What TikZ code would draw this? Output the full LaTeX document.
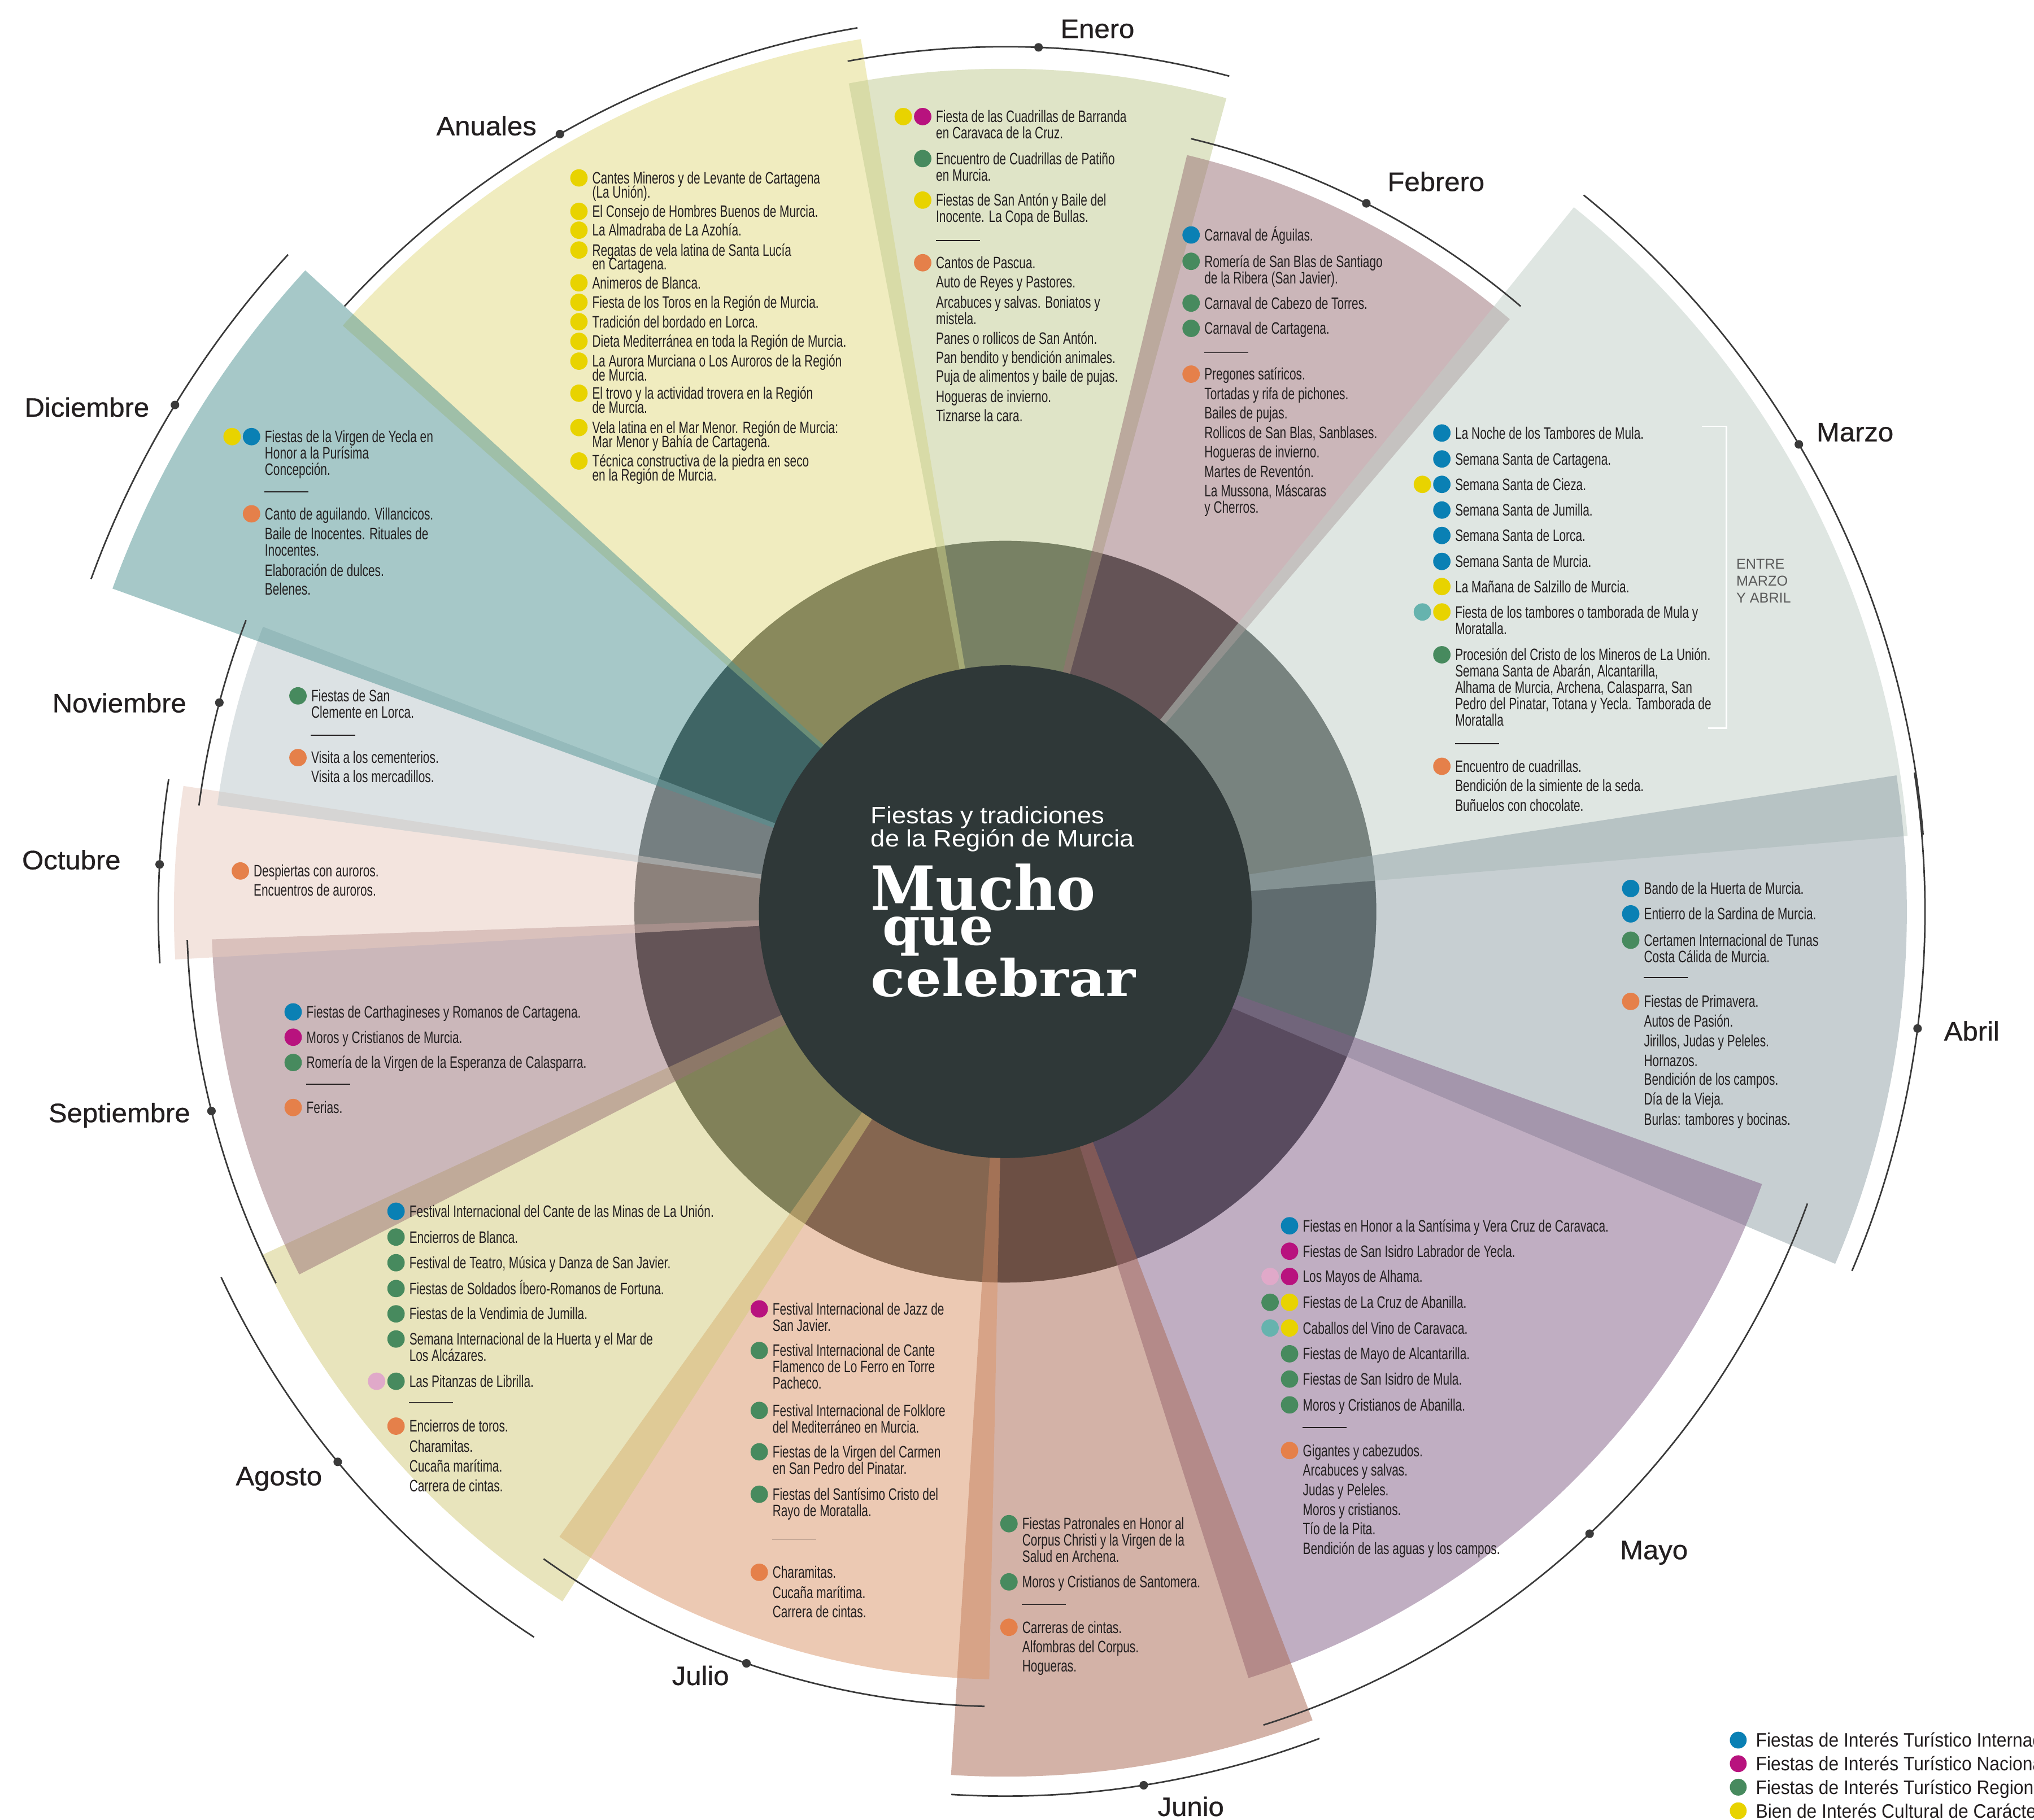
\documentclass[tikz,border=0pt]{standalone}
\usepackage{fontspec}
\usepackage{graphicx}
\setmainfont{Liberation Sans}
\newfontfamily\bodyfnt[FakeStretch=0.71]{Liberation Sans}
\newfontfamily\monfnt[FakeStretch=1.04,FakeBold=0.7]{Liberation Sans}
\newfontfamily\subfnt[FakeStretch=1.08]{Liberation Sans}
\newfontfamily\legfnt[FakeStretch=0.92]{Liberation Sans}
\newfontfamily\headfnt{DejaVu Serif}
\usetikzlibrary{positioning}

% colours
\definecolor{ink}{RGB}{35,31,32}
\definecolor{core}{RGB}{47,56,56}
\definecolor{rimc}{RGB}{58,58,58}
\definecolor{greytxt}{RGB}{90,90,90}
\definecolor{cEne}{RGB}{193,203,145}
\definecolor{cAnu}{RGB}{227,219,129}
\definecolor{cFeb}{RGB}{153,111,117}
\definecolor{cMar}{RGB}{193,207,199}
\definecolor{cAbr}{RGB}{145,161,167}
\definecolor{cMay}{RGB}{131,95,135}
\definecolor{cJun}{RGB}{169,103,81}
\definecolor{cJul}{RGB}{219,149,105}
\definecolor{cAgo}{RGB}{211,203,123}
\definecolor{cSep}{RGB}{153,113,119}
\definecolor{cOct}{RGB}{233,203,191}
\definecolor{cNov}{RGB}{187,199,203}
\definecolor{cDic}{RGB}{79,147,147}
\definecolor{dBlue}{RGB}{10,128,180}
\definecolor{dMag}{RGB}{184,18,126}
\definecolor{dGreen}{RGB}{71,138,94}
\definecolor{dYel}{RGB}{232,211,0}
\definecolor{dOra}{RGB}{229,128,74}
\definecolor{dTeal}{RGB}{102,179,174}
\definecolor{dPink}{RGB}{224,169,201}

\tikzset{
  txt/.style={font=\bodyfnt\fontsize{9.1pt}{8.96pt}\selectfont, text=ink, inner sep=0pt, anchor=base west},
  mon/.style={font=\monfnt\fontsize{14.6pt}{16pt}\selectfont, text=ink, inner sep=0pt, anchor=base},
  subt/.style={font=\subfnt\fontsize{13pt}{14pt}\selectfont, text=white, inner sep=0pt, anchor=base west},
  ttl/.style={font=\headfnt\bfseries, text=white, inner sep=0pt, anchor=base west},
  leg/.style={font=\legfnt\fontsize{10.7pt}{12pt}\selectfont, text=ink, inner sep=0pt, anchor=base west},
  entre/.style={font=\fontsize{7.8pt}{9.25pt}\selectfont, text=greytxt, inner sep=0pt, anchor=base west},
  rim/.style={draw=rimc, line width=0.85pt},
  divline/.style={draw=ink, line width=0.55pt},
  mwedge/.style={fill opacity=0.5},
}

% lines of one entry, first baseline on top
\newcommand\ml[1]{\vtop{\lineskiplimit=-100pt\halign{##\hfil\cr#1\crcr}}}
\newcommand\itm[4]{\node[txt] (#1) at (#2,{-(#3)-4.5}) {\ml{#4}};}
\newcommand\ditm[5]{\fill[#4] ({#2-10},{-(#3)}) circle[radius=6.7]; \itm{#1}{#2}{#3}{#5}}
\newcommand\dditm[6]{\fill[#5] ({#2-25},{-(#3)}) circle[radius=6.7]; \ditm{#1}{#2}{#3}{#4}{#6}}
\newcommand\sepline[2]{\draw[divline] (#1,{-(#2)}) -- ++(34,0);}

\begin{document}
\begin{tikzpicture}[x=0.25mm, y=0.25mm]
    \useasboundingbox (0,0) rectangle (1568,-1403.4);
    \fill[white] (0,0) rectangle (1568,-1403.4);

    % Wheel
    \begin{scope}[shift={(775,-703)}]
        \fill[core] (0,0) circle[radius=286];
        \foreach \a/\b/\r/\c in {99.4/138.5/682/cAnu, 74.8/100.7/650/cEne, 49.6/76.5/600/cFeb,
            4.8/51.1/698/cMar, -23/8.7/695/cAbr, -72.4/-19.8/620/cMay, -93.6/-69.2/667/cJun,
            -125.5/-91.2/592/cJul, -155.2/-122.7/632/cAgo, -178/-152.8/612/cSep,
            171.3/183.3/641/cOct, 159/172.3/613/cNov, 137.5/160.1/732/cDic}
            \fill[mwedge, fill=\c] (0,0) -- (\a:\r) arc[start angle=\a, end angle=\b, radius=\r] -- cycle;
        \fill[core] (0,0) circle[radius=190];
        % month rims
        \foreach \a/\b/\r/\d in {75/100.5/667/87.8, 99.5/137.5/691/119.8, 137.5/160/750/148.6,
            159/172.5/627/165.1, 171/183.5/653/176.8, 182/207/631/194.1, 205/237/667/219.5,
            234.5/268.5/613/251, 266.5/290.8/682/279, 287.6/340/658/313.2, 337/368.7/709/352.7,
            4.8/51.1/710/30.5, 49.6/76.5/613/63}
        {
            \draw[rim] (\a:\r) arc[start angle=\a, end angle=\b, radius=\r];
            \fill[rimc] (\d:\r) circle[radius=3.3];
        }
    \end{scope}

    % Month names
    \node[mon] (lEne) at (846,-29.3) {Enero};
    \node[mon] (lAnu) at (375,-104.3) {Anuales};
    \node[mon] (lFeb) at (1107,-147.3) {Febrero};
    \node[mon] (lMar) at (1430,-340.3) {Marzo};
    \node[mon] (lAbr) at (1520,-802.3) {Abril};
    \node[mon] (lMay) at (1275,-1202.3) {Mayo};
    \node[mon] (lJun) at (918,-1400.3) {Junio};
    \node[mon] (lJul) at (540,-1299.3) {Julio};
    \node[mon] (lAgo) at (215,-1145.3) {Agosto};
    \node[mon] (lSep) at (92,-865.3) {Septiembre};
    \node[mon] (lOct) at (55,-670.3) {Octubre};
    \node[mon] (lNov) at (92,-549.3) {Noviembre};
    \node[mon] (lDic) at (67,-321.3) {Diciembre};

    % Enero
    \dditm{ene1}{721.3}{89.9}{dMag}{dYel}{Fiesta de las Cuadrillas de Barranda\cr en Caravaca de la Cruz.}
    \ditm{ene2}{721.3}{122.3}{dGreen}{Encuentro de Cuadrillas de Patiño\cr en Murcia.}
    \ditm{ene3}{721.3}{154.3}{dYel}{Fiestas de San Antón y Baile del\cr Inocente. La Copa de Bullas.}
    \sepline{721.3}{185.4}
    \ditm{ene4}{721.3}{202.6}{dOra}{Cantos de Pascua.}
    \itm{ene5}{721.3}{217.3}{Auto de Reyes y Pastores.}
    \itm{ene6}{721.3}{232.9}{Arcabuces y salvas. Boniatos y\cr mistela.}
    \itm{ene7}{721.3}{260.8}{Panes o rollicos de San Antón.}
    \itm{ene8}{721.3}{275.5}{Pan bendito y bendición animales.}
    \itm{ene9}{721.3}{290.2}{Puja de alimentos y baile de pujas.}
    \itm{ene10}{721.3}{305.8}{Hogueras de invierno.}
    \itm{ene11}{721.3}{320.5}{Tiznarse la cara.}

    % Anuales
    \begin{scope}[txt/.style={font=\bodyfnt\fontsize{9.1pt}{7.68pt}\selectfont, text=ink, inner sep=0pt, anchor=base west}]
    \ditm{anu1}{456.3}{137.2}{dYel}{Cantes Mineros y de Levante de Cartagena\cr (La Unión).}
    \ditm{anu2}{456.3}{163.0}{dYel}{El Consejo de Hombres Buenos de Murcia.}
    \ditm{anu3}{456.3}{177.5}{dYel}{La Almadraba de La Azohía.}
    \ditm{anu4}{456.3}{192.8}{dYel}{Regatas de vela latina de Santa Lucía\cr en Cartagena.}
    \ditm{anu5}{456.3}{218.1}{dYel}{Animeros de Blanca.}
    \ditm{anu6}{456.3}{233.1}{dYel}{Fiesta de los Toros en la Región de Murcia.}
    \ditm{anu7}{456.3}{248.1}{dYel}{Tradición del bordado en Lorca.}
    \ditm{anu8}{456.3}{263.2}{dYel}{Dieta Mediterránea en toda la Región de Murcia.}
    \ditm{anu9}{456.3}{278.5}{dYel}{La Aurora Murciana o Los Auroros de la Región\cr de Murcia.}
    \ditm{anu10}{456.3}{303.2}{dYel}{El trovo y la actividad trovera en la Región\cr de Murcia.}
    \ditm{anu11}{456.3}{329.7}{dYel}{Vela latina en el Mar Menor. Región de Murcia:\cr Mar Menor y Bahía de Cartagena.}
    \ditm{anu12}{456.3}{355.5}{dYel}{Técnica constructiva de la piedra en seco\cr en la Región de Murcia.}
    \end{scope}

    % Febrero
    \ditm{feb1}{928.2}{181.2}{dBlue}{Carnaval de Águilas.}
    \ditm{feb2}{928.2}{201.5}{dGreen}{Romería de San Blas de Santiago\cr de la Ribera (San Javier).}
    \ditm{feb3}{928.2}{233.7}{dGreen}{Carnaval de Cabezo de Torres.}
    \ditm{feb4}{928.2}{253.2}{dGreen}{Carnaval de Cartagena.}
    \sepline{928.2}{271.9}
    \ditm{feb5}{928.2}{288.5}{dOra}{Pregones satíricos.}
    \itm{feb6}{928.2}{303.5}{Tortadas y rifa de pichones.}
    \itm{feb7}{928.2}{318.5}{Bailes de pujas.}
    \itm{feb8}{928.2}{333.5}{Rollicos de San Blas, Sanblases.}
    \itm{feb9}{928.2}{348.5}{Hogueras de invierno.}
    \itm{feb10}{928.2}{363.5}{Martes de Reventón.}
    \itm{feb11}{928.2}{378.5}{La Mussona, Máscaras\cr y Cherros.}

    % Marzo
    \ditm{mar1}{1121.5}{333.9}{dBlue}{La Noche de los Tambores de Mula.}
    \ditm{mar2}{1121.5}{353.9}{dBlue}{Semana Santa de Cartagena.}
    \dditm{mar3}{1121.5}{373.5}{dBlue}{dYel}{Semana Santa de Cieza.}
    \ditm{mar4}{1121.5}{393.3}{dBlue}{Semana Santa de Jumilla.}
    \ditm{mar5}{1121.5}{412.9}{dBlue}{Semana Santa de Lorca.}
    \ditm{mar6}{1121.5}{432.9}{dBlue}{Semana Santa de Murcia.}
    \ditm{mar7}{1121.5}{452.3}{dYel}{La Mañana de Salzillo de Murcia.}
    \dditm{mar8}{1121.5}{471.9}{dYel}{dTeal}{Fiesta de los tambores o tamborada de Mula y\cr Moratalla.}
    \ditm{mar9}{1121.5}{504.9}{dGreen}{Procesión del Cristo de los Mineros de La Unión.\cr Semana Santa de Abarán, Alcantarilla,\cr Alhama de Murcia, Archena, Calasparra, San\cr Pedro del Pinatar, Totana y Yecla. Tamborada de\cr Moratalla}
    \sepline{1121.5}{573.5}
    \ditm{mar10}{1121.5}{590.9}{dOra}{Encuentro de cuadrillas.}
    \itm{mar11}{1121.5}{605.9}{Bendición de la simiente de la seda.}
    \itm{mar12}{1121.5}{620.9}{Buñuelos con chocolate.}
    \draw[white, line width=0.7pt] (1312,-328.9) -- (1330.9,-328.9) -- (1330.9,-561.5) -- (1316.6,-561.5);
    \node[entre] (entre) at (1338.3,-438.8) {\ml{ENTRE\cr MARZO\cr Y ABRIL}};

    % Abril
    \ditm{abr1}{1267.1}{685.1}{dBlue}{Bando de la Huerta de Murcia.}
    \ditm{abr2}{1267.1}{704.7}{dBlue}{Entierro de la Sardina de Murcia.}
    \ditm{abr3}{1267.1}{725.0}{dGreen}{Certamen Internacional de Tunas\cr Costa Cálida de Murcia.}
    \sepline{1267.1}{753.7}
    \ditm{abr4}{1267.1}{772.2}{dOra}{Fiestas de Primavera.}
    \itm{abr5}{1267.1}{787.4}{Autos de Pasión.}
    \itm{abr6}{1267.1}{802.6}{Jirillos, Judas y Peleles.}
    \itm{abr7}{1267.1}{817.9}{Hornazos.}
    \itm{abr8}{1267.1}{832.4}{Bendición de los campos.}
    \itm{abr9}{1267.1}{847.6}{Día de la Vieja.}
    \itm{abr10}{1267.1}{862.9}{Burlas: tambores y bocinas.}

    % Mayo
    \ditm{may1}{1004.1}{945.2}{dBlue}{Fiestas en Honor a la Santísima y Vera Cruz de Caravaca.}
    \ditm{may2}{1004.1}{964.8}{dMag}{Fiestas de San Isidro Labrador de Yecla.}
    \dditm{may3}{1004.1}{984.3}{dMag}{dPink}{Los Mayos de Alhama.}
    \dditm{may4}{1004.1}{1004.2}{dYel}{dGreen}{Fiestas de La Cruz de Abanilla.}
    \dditm{may5}{1004.1}{1024.0}{dYel}{dTeal}{Caballos del Vino de Caravaca.}
    \ditm{may6}{1004.1}{1043.9}{dGreen}{Fiestas de Mayo de Alcantarilla.}
    \ditm{may7}{1004.1}{1063.4}{dGreen}{Fiestas de San Isidro de Mula.}
    \ditm{may8}{1004.1}{1083.3}{dGreen}{Moros y Cristianos de Abanilla.}
    \sepline{1004.1}{1100.7}
    \ditm{may9}{1004.1}{1118.5}{dOra}{Gigantes y cabezudos.}
    \itm{may10}{1004.1}{1133.6}{Arcabuces y salvas.}
    \itm{may11}{1004.1}{1148.7}{Judas y Peleles.}
    \itm{may12}{1004.1}{1163.8}{Moros y cristianos.}
    \itm{may13}{1004.1}{1178.9}{Tío de la Pita.}
    \itm{may14}{1004.1}{1194.0}{Bendición de las aguas y los campos.}

    % Junio
    \ditm{jun1}{787.8}{1174.9}{dGreen}{Fiestas Patronales en Honor al\cr Corpus Christi y la Virgen de la\cr Salud en Archena.}
    \ditm{jun2}{787.8}{1219.8}{dGreen}{Moros y Cristianos de Santomera.}
    \sepline{787.8}{1237.3}
    \ditm{jun3}{787.8}{1254.8}{dOra}{Carreras de cintas.}
    \itm{jun4}{787.8}{1269.8}{Alfombras del Corpus.}
    \itm{jun5}{787.8}{1284.7}{Hogueras.}

    % Julio
    \ditm{jul1}{595.3}{1009.3}{dMag}{Festival Internacional de Jazz de\cr San Javier.}
    \ditm{jul2}{595.3}{1041.4}{dGreen}{Festival Internacional de Cante\cr Flamenco de Lo Ferro en Torre\cr Pacheco.}
    \ditm{jul3}{595.3}{1087.6}{dGreen}{Festival Internacional de Folklore\cr del Mediterráneo en Murcia.}
    \ditm{jul4}{595.3}{1119.5}{dGreen}{Fiestas de la Virgen del Carmen\cr en San Pedro del Pinatar.}
    \ditm{jul5}{595.3}{1152.2}{dGreen}{Fiestas del Santísimo Cristo del\cr Rayo de Moratalla.}
    \sepline{595.3}{1186.8}
    \ditm{jul6}{595.3}{1212.4}{dOra}{Charamitas.}
    \itm{jul7}{595.3}{1228.0}{Cucaña marítima.}
    \itm{jul8}{595.3}{1242.6}{Carrera de cintas.}

    % Agosto
    \ditm{ago1}{315.3}{934.0}{dBlue}{Festival Internacional del Cante de las Minas de La Unión.}
    \ditm{ago2}{315.3}{953.9}{dGreen}{Encierros de Blanca.}
    \ditm{ago3}{315.3}{973.7}{dGreen}{Festival de Teatro, Música y Danza de San Javier.}
    \ditm{ago4}{315.3}{993.6}{dGreen}{Fiestas de Soldados Íbero-Romanos de Fortuna.}
    \ditm{ago5}{315.3}{1013.1}{dGreen}{Fiestas de la Vendimia de Jumilla.}
    \ditm{ago6}{315.3}{1032.5}{dGreen}{Semana Internacional de la Huerta y el Mar de\cr Los Alcázares.}
    \dditm{ago7}{315.3}{1065.1}{dGreen}{dPink}{Las Pitanzas de Librilla.}
    \sepline{315.3}{1081.4}
    \ditm{ago8}{315.3}{1099.7}{dOra}{Encierros de toros.}
    \itm{ago9}{315.3}{1115.0}{Charamitas.}
    \itm{ago10}{315.3}{1130.3}{Cucaña marítima.}
    \itm{ago11}{315.3}{1145.6}{Carrera de cintas.}

    % Septiembre
    \ditm{sep1}{236.0}{780.3}{dBlue}{Fiestas de Carthagineses y Romanos de Cartagena.}
    \ditm{sep2}{236.0}{799.8}{dMag}{Moros y Cristianos de Murcia.}
    \ditm{sep3}{236.0}{819.3}{dGreen}{Romería de la Virgen de la Esperanza de Calasparra.}
    \sepline{236.0}{836.0}
    \ditm{sep4}{236.0}{854.0}{dOra}{Ferias.}

    % Octubre
    \ditm{oct1}{195.3}{671.6}{dOra}{Despiertas con auroros.}
    \itm{oct2}{195.3}{686.5}{Encuentros de auroros.}

    % Noviembre
    \ditm{nov1}{239.7}{536.6}{dGreen}{Fiestas de San\cr Clemente en Lorca.}
    \sepline{239.7}{566.9}
    \ditm{nov2}{239.7}{584.2}{dOra}{Visita a los cementerios.}
    \itm{nov3}{239.7}{598.8}{Visita a los mercadillos.}

    % Diciembre
    \dditm{dic1}{203.9}{336.7}{dBlue}{dYel}{Fiestas de la Virgen de Yecla en\cr Honor a la Purísima\cr Concepción.}
    \sepline{203.9}{379.1}
    \ditm{dic2}{203.9}{396.2}{dOra}{Canto de aguilando. Villancicos.}
    \itm{dic3}{203.9}{411.5}{Baile de Inocentes. Rituales de\cr Inocentes.}
    \itm{dic4}{203.9}{439.8}{Elaboración de dulces.}
    \itm{dic5}{203.9}{454.3}{Belenes.}

    % Title
    \node[subt] (sub1) at (671.1,-635.0) {Fiestas y tradiciones};
    \node[subt] (sub2) at (671.1,-653.1) {de la Región de Murcia};
    \node[ttl] (big1) at (671.1,-701.8) {\resizebox{43.3mm}{8.9mm}{Mucho}};
    \node[ttl] (big2) at (680,-728.6) {\resizebox{21.4mm}{5.45mm}{que}};
    \node[ttl] (big3) at (671.1,-768.5) {\resizebox{51mm}{7.43mm}{celebrar}};

    % Legend
    \fill[dBlue] (1340,-1341.8) circle[radius=6.5];
    \node[leg] (leg1) at (1353.3,-1347.2) {Fiestas de Interés Turístico Internacional};
    \fill[dMag] (1340,-1360.0) circle[radius=6.5];
    \node[leg] (leg2) at (1353.3,-1365.4) {Fiestas de Interés Turístico Nacional};
    \fill[dGreen] (1340,-1378.1) circle[radius=6.5];
    \node[leg] (leg3) at (1353.3,-1383.5) {Fiestas de Interés Turístico Regional};
    \fill[dYel] (1340,-1396.3) circle[radius=6.5];
    \node[leg] (leg4) at (1353.3,-1401.7) {Bien de Interés Cultural de Carácter Inmaterial};
\end{tikzpicture}
\end{document}
